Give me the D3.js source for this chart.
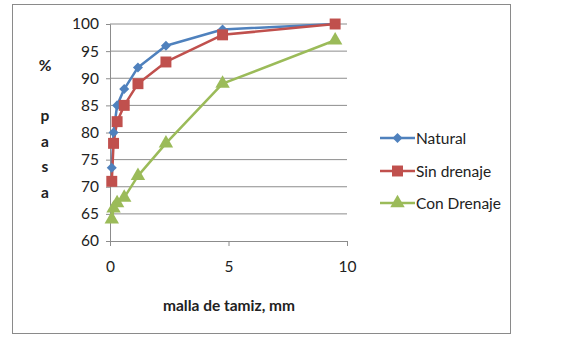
<!DOCTYPE html>
<html>
<head>
<meta charset="utf-8">
<script src="https://cdn.jsdelivr.net/npm/d3@7"></script>
<style>
  body { margin: 0; background: #fff; }
  svg text { font-family: Lato, "Open Sans", sans-serif; fill: #222; }
</style>
</head>
<body>
<div id="chart"></div>
<script>
// sieve sizes (mm) and % passing
const sizes = [9.5, 4.75, 2.36, 1.18, 0.6, 0.3, 0.15, 0.075];
const natural = [100, 99, 96, 92, 88, 85, 80, 73.5];
const sinDrenaje = [100, 98, 93, 89, 85, 82, 78, 71];
const conDrenaje = [97, 89, 78, 72, 68, 67, 66, 64];
const seriesNames = ["Natural", "Sin drenaje", "Con Drenaje"];
const yTicks = [60, 65, 70, 75, 80, 85, 90, 95, 100];
const xTicks = [0, 5, 10];

const width = 569, height = 345;
const colors = ["#4F81BD", "#C0504D", "#9BBB59"];
const symbols = [d3.symbolDiamond2, d3.symbolSquare, d3.symbolTriangle];
const symSizes = [64, 120, 90];

const svg = d3.select("#chart").append("svg")
    .attr("width", width)
    .attr("height", height);

// outer frame
svg.append("rect")
    .attr("x", 12.5).attr("y", 4.5)
    .attr("width", 498).attr("height", 329)
    .attr("fill", "#fff")
    .attr("stroke", "#8a8a8a");

const x = d3.scaleLinear().domain([0, 10]).range([110, 347]);
const y = d3.scaleLinear().domain([60, 100]).range([241, 24]);

// gridlines
svg.append("g")
    .selectAll("line")
    .data(yTicks.slice(1))
    .join("line")
    .attr("x1", 110).attr("x2", 347)
    .attr("y1", d => y(d)).attr("y2", d => y(d))
    .attr("stroke", "#8c8c8c");

// y axis
const yAxis = svg.append("g")
    .attr("transform", "translate(110,0)")
    .call(d3.axisLeft(y).tickValues(yTicks).tickSize(4).tickPadding(7));
yAxis.select(".domain").attr("stroke", "#8c8c8c");
yAxis.selectAll(".tick line").attr("stroke", "#8c8c8c");
yAxis.selectAll("text").attr("font-size", 15.5).attr("fill", "#222");

// x axis
const xAxis = svg.append("g")
    .attr("transform", "translate(0,241)")
    .call(d3.axisBottom(x).tickValues(xTicks).tickSize(5).tickPadding(15));
xAxis.select(".domain").attr("stroke", "#8c8c8c");
xAxis.selectAll(".tick line").attr("stroke", "#8c8c8c");
xAxis.selectAll("text").attr("font-size", 15.5).attr("fill", "#222");

// axis titles
const yLetters = ["%", "p", "a", "s", "a"];
const yLetterPos = [71, 121, 147, 172, 198];
svg.append("g")
    .selectAll("text")
    .data(yLetters)
    .join("text")
    .attr("x", 45)
    .attr("y", (d, i) => yLetterPos[i])
    .attr("text-anchor", "middle")
    .attr("font-size", 15.5)
    .attr("font-weight", "bold")
    .text(d => d);

svg.append("text")
    .attr("x", 229).attr("y", 311)
    .attr("text-anchor", "middle")
    .attr("font-size", 15.5)
    .attr("font-weight", "bold")
    .text("malla de tamiz, mm");

// series
const allSeries = [natural, sinDrenaje, conDrenaje];
const line = d3.line()
    .x((d, i) => x(sizes[i]))
    .y(d => y(d));

allSeries.forEach((vals, s) => {
    svg.append("path")
        .datum(vals)
        .attr("d", line)
        .attr("fill", "none")
        .attr("stroke", colors[s])
        .attr("stroke-width", 2.5)
        .attr("stroke-linejoin", "round");
});

allSeries.forEach((vals, s) => {
    svg.append("g")
        .selectAll("path")
        .data(vals)
        .join("path")
        .attr("transform", (d, i) => `translate(${x(sizes[i])},${y(d)})`)
        .attr("d", d3.symbol().type(symbols[s]).size(symSizes[s]))
        .attr("fill", colors[s]);
});

// legend
const legendY = [138, 171, 203];
const legend = svg.append("g")
    .selectAll("g")
    .data(seriesNames)
    .join("g")
    .attr("transform", (d, i) => `translate(380,${legendY[i]})`);

legend.append("line")
    .attr("x1", 0).attr("x2", 35)
    .attr("stroke", (d, i) => colors[i])
    .attr("stroke-width", 2.5);
legend.append("path")
    .attr("transform", "translate(17.5,0)")
    .attr("d", (d, i) => d3.symbol().type(symbols[i]).size(symSizes[i])())
    .attr("fill", (d, i) => colors[i]);
legend.append("text")
    .attr("x", 36).attr("y", 5.5)
    .attr("font-size", 15.5)
    .text(d => d);
</script>
</body>
</html>
